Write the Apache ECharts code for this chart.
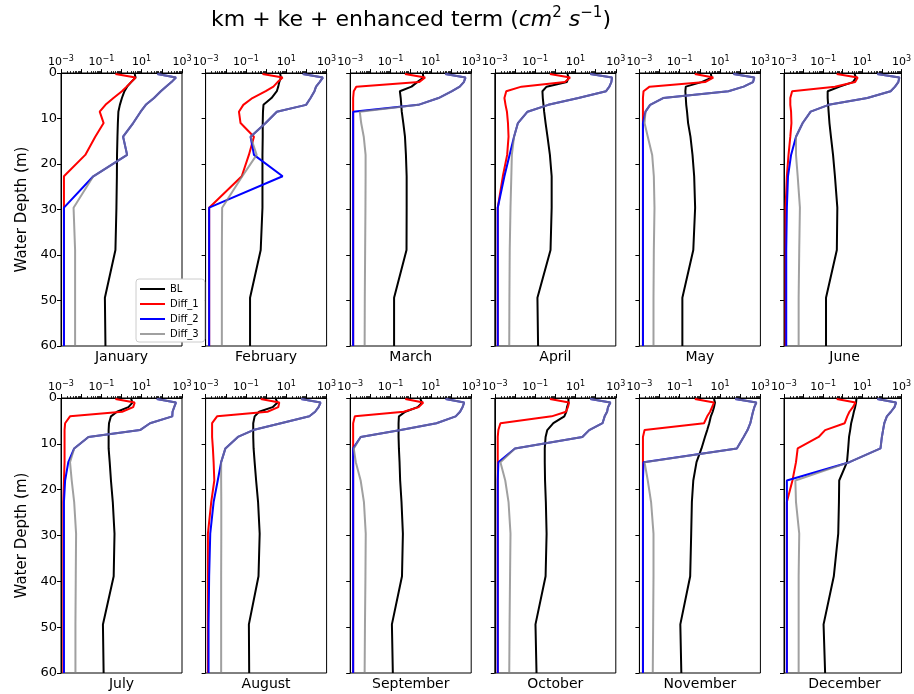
<!DOCTYPE html>
<html><head><meta charset="utf-8">
<script src="https://cdn.jsdelivr.net/npm/echarts@6/dist/echarts.min.js"></script>
<style>html,body{margin:0;padding:0;background:#fff}#c{width:914px;height:694px}</style>
</head><body><div id="c"></div>
<script>
const months = ['January','February','March','April','May','June','July','August','September','October','November','December'];
const depths = [0.2, 1, 2, 3, 4, 5.5, 7, 8.5, 11, 14, 18, 22.7, 29.6, 38.9, 49.4, 60];
const depthTicks = [0, 10, 20, 30, 40, 50, 60];
const xMajorTicks = [0.001, 0.01, 0.1, 1, 10, 100, 1000];
const xMinorTicks = [
  0.002, 0.003, 0.004, 0.005, 0.006, 0.007, 0.008, 0.009,
  0.02, 0.03, 0.04, 0.05, 0.06, 0.07, 0.08, 0.09,
  0.2, 0.3, 0.4, 0.5, 0.6, 0.7, 0.8, 0.9,
  2, 3, 4, 5, 6, 7, 8, 9,
  20, 30, 40, 50, 60, 70, 80, 90,
  200, 300, 400, 500, 600, 700, 800, 900
];

const BL = [
  [4.5, 5.0, 3.0, 1.9, 1.4, 1.05, 0.83, 0.7, 0.66, 0.63, 0.6, 0.59, 0.56, 0.5, 0.15, 0.16],
  [5.0, 5.4, 4.5, 4.0, 3.4, 1.85, 0.74, 0.7, 0.68, 0.68, 0.66, 0.66, 0.66, 0.54, 0.16, 0.16],
  [4.0, 4.3, 2.1, 1.1, 0.29, 0.32, 0.34, 0.36, 0.43, 0.52, 0.58, 0.63, 0.63, 0.62, 0.15, 0.15],
  [4.0, 4.5, 3.7, 0.37, 0.23, 0.24, 0.26, 0.28, 0.33, 0.41, 0.54, 0.66, 0.66, 0.58, 0.13, 0.14],
  [3.5, 3.8, 1.2, 0.2, 0.19, 0.2, 0.21, 0.23, 0.26, 0.34, 0.43, 0.52, 0.58, 0.47, 0.135, 0.135],
  [4.0, 4.8, 3.3, 0.7, 0.17, 0.17, 0.18, 0.19, 0.21, 0.25, 0.32, 0.4, 0.53, 0.5, 0.14, 0.14],
  [3.0, 3.5, 2.2, 0.6, 0.3, 0.24, 0.23, 0.23, 0.23, 0.26, 0.3, 0.37, 0.45, 0.41, 0.12, 0.13],
  [3.0, 3.7, 2.1, 0.45, 0.27, 0.23, 0.23, 0.23, 0.24, 0.27, 0.32, 0.4, 0.48, 0.42, 0.14, 0.145],
  [3.0, 3.7, 2.2, 0.54, 0.26, 0.25, 0.25, 0.25, 0.26, 0.28, 0.3, 0.35, 0.41, 0.37, 0.117, 0.13],
  [4.5, 4.5, 3.8, 3.5, 2.8, 0.8, 0.4, 0.33, 0.3, 0.3, 0.31, 0.34, 0.37, 0.33, 0.104, 0.117],
  [5.0, 5.6, 5.0, 4.3, 3.5, 2.9, 2.3, 1.78, 1.2, 0.68, 0.47, 0.4, 0.37, 0.33, 0.107, 0.12],
  [5.0, 4.8, 4.3, 3.7, 3.3, 2.7, 2.4, 2.1, 1.9, 1.65, 0.66, 0.64, 0.59, 0.35, 0.105, 0.126]
];
const Diff_1 = [
  [0.5, 5.0, 3.0, 1.8, 1.05, 0.4, 0.16, 0.083, 0.13, 0.05, 0.016, 0.0014, 0.0014, 0.0014, 0.0014, 0.0014],
  [0.66, 6.6, 3.7, 2.3, 0.96, 0.21, 0.074, 0.045, 0.054, 0.25, 0.14, 0.062, 0.0015, 0.0015, 0.0015, 0.0015],
  [0.52, 5.2, 2.6, 0.002, 0.0015, 0.0014, 0.0014, 0.0014, 0.0014, 0.0014, 0.0014, 0.0014, 0.0014, 0.0014, 0.0014, 0.0014],
  [0.54, 5.4, 3.0, 0.021, 0.0037, 0.003, 0.0034, 0.004, 0.0045, 0.0048, 0.0041, 0.0025, 0.0014, 0.0014, 0.0014, 0.0014],
  [0.56, 4.6, 1.8, 0.0032, 0.0016, 0.0015, 0.0015, 0.0015, 0.0015, 0.0015, 0.0015, 0.0015, 0.0015, 0.0015, 0.0015, 0.0015],
  [0.49, 5.8, 4.3, 0.4, 0.0026, 0.0021, 0.0021, 0.0023, 0.0024, 0.0021, 0.0017, 0.0014, 0.0012, 0.0012, 0.0012, 0.0012],
  [0.5, 4.5, 3.8, 1.07, 0.0028, 0.0016, 0.0015, 0.0015, 0.0015, 0.0015, 0.0014, 0.0013, 0.0013, 0.0013, 0.0013, 0.0013],
  [0.54, 4.5, 4.0, 1.17, 0.0037, 0.0021, 0.0021, 0.0021, 0.0023, 0.0025, 0.0027, 0.0019, 0.0013, 0.0013, 0.0013, 0.0013],
  [0.54, 4.2, 2.5, 0.45, 0.0017, 0.0014, 0.0014, 0.0014, 0.0014, 0.0014, 0.0014, 0.0014, 0.0014, 0.0014, 0.0014, 0.0014],
  [0.54, 4.8, 4.2, 3.4, 0.66, 0.0019, 0.0015, 0.0014, 0.0014, 0.0014, 0.0014, 0.0014, 0.0014, 0.0014, 0.0014, 0.0014],
  [0.56, 5.0, 4.0, 3.2, 2.3, 1.6, 0.0018, 0.0015, 0.0015, 0.0015, 0.0015, 0.0015, 0.0015, 0.0015, 0.0015, 0.0015],
  [0.49, 4.5, 3.3, 2.2, 1.7, 1.26, 0.126, 0.059, 0.005, 0.0041, 0.0027, 0.0014, 0.0014, 0.0014, 0.0014, 0.0014]
];
const Diff_2 = [
  [60, 500, 300, 160, 89, 41, 16, 8.9, 3.8, 1.2, 1.9, 0.04, 0.0014, 0.0014, 0.0014, 0.0014],
  [66, 650, 450, 300, 250, 160, 96, 3.4, 0.95, 0.17, 0.25, 6.6, 0.0015, 0.0015, 0.0015, 0.0015],
  [52, 520, 430, 270, 112, 24, 2.4, 0.0014, 0.0014, 0.0014, 0.0014, 0.0014, 0.0014, 0.0014, 0.0014, 0.0014],
  [54, 650, 600, 480, 330, 14, 0.45, 0.042, 0.014, 0.009, 0.0054, 0.003, 0.0014, 0.0014, 0.0014, 0.0014],
  [46, 500, 430, 147, 26, 0.015, 0.0034, 0.002, 0.0015, 0.0015, 0.0015, 0.0015, 0.0015, 0.0015, 0.0015, 0.0015],
  [58, 780, 690, 470, 280, 18, 0.19, 0.023, 0.009, 0.0041, 0.0023, 0.0016, 0.0014, 0.0013, 0.0013, 0.0013],
  [56, 500, 410, 340, 330, 26, 8.3, 0.023, 0.0045, 0.0023, 0.0016, 0.0014, 0.0014, 0.0014, 0.0014, 0.0014],
  [54, 500, 400, 270, 140, 5.4, 0.23, 0.04, 0.0096, 0.0059, 0.004, 0.0025, 0.0017, 0.0015, 0.0014, 0.0014],
  [54, 450, 370, 280, 170, 19, 0.32, 0.0033, 0.0014, 0.0014, 0.0014, 0.0014, 0.0014, 0.0014, 0.0014, 0.0014],
  [54, 540, 410, 370, 280, 220, 48, 22, 0.01, 0.0015, 0.0014, 0.0014, 0.0014, 0.0014, 0.0014, 0.0014],
  [56, 630, 500, 430, 380, 316, 230, 147, 68, 0.0016, 0.0015, 0.0015, 0.0015, 0.0015, 0.0015, 0.0015],
  [58, 530, 440, 290, 180, 133, 115, 100, 85, 2.2, 0.0014, 0.0014, 0.0014, 0.0014, 0.0014, 0.0014]
];
const Diff_3 = [
  [60, 500, 300, 160, 89, 41, 16, 8.9, 3.8, 1.2, 1.9, 0.04, 0.0042, 0.005, 0.005, 0.005],
  [66, 650, 450, 300, 250, 160, 96, 3.4, 0.95, 0.17, 0.34, 0.066, 0.0066, 0.0064, 0.0064, 0.0064],
  [52, 520, 430, 270, 112, 24, 2.4, 0.003, 0.0035, 0.0047, 0.0058, 0.0058, 0.0057, 0.0055, 0.0053, 0.0052],
  [54, 650, 600, 480, 330, 14, 0.45, 0.042, 0.014, 0.009, 0.007, 0.0066, 0.006, 0.0055, 0.0053, 0.0052],
  [46, 500, 430, 147, 26, 0.015, 0.0034, 0.002, 0.0018, 0.0026, 0.0043, 0.0052, 0.0056, 0.0052, 0.005, 0.005],
  [58, 780, 690, 470, 280, 18, 0.19, 0.023, 0.009, 0.0041, 0.0041, 0.005, 0.0065, 0.006, 0.0056, 0.0056],
  [56, 500, 410, 340, 330, 26, 8.3, 0.023, 0.0045, 0.0028, 0.0034, 0.0045, 0.0056, 0.0054, 0.0052, 0.0052],
  [54, 500, 400, 270, 140, 5.4, 0.23, 0.04, 0.0096, 0.0059, 0.0059, 0.006, 0.006, 0.0059, 0.0059, 0.0059],
  [54, 450, 370, 280, 170, 19, 0.32, 0.0033, 0.0015, 0.0019, 0.0033, 0.0048, 0.0059, 0.0057, 0.0054, 0.0052],
  [54, 540, 410, 370, 280, 220, 48, 22, 0.01, 0.0019, 0.0033, 0.0048, 0.006, 0.0057, 0.0054, 0.0052],
  [56, 630, 500, 430, 380, 316, 230, 147, 68, 0.0018, 0.0026, 0.0038, 0.005, 0.005, 0.0048, 0.0046],
  [58, 530, 440, 290, 180, 133, 115, 100, 85, 2.2, 0.0038, 0.0041, 0.006, 0.0056, 0.0056, 0.0056]
];

const seriesDefs = [
  { name: 'BL', values: BL, color: '#000000' },
  { name: 'Diff_1', values: Diff_1, color: '#ff0000' },
  { name: 'Diff_2', values: Diff_2, color: '#0000ff' },
  { name: 'Diff_3', values: Diff_3, color: 'rgba(128,128,128,0.75)' }
];

const F = 'DejaVu Sans';
const grids = [], xAxes = [], xMinorAxes = [], yAxes = [], series = [], titles = [];

titles.push({
  text: '{n|km + ke + enhanced term (}{i|cm}{s|2}{n| }{i|s}{s|\u22121}{n|)}',
  left: 411, top: 6, textAlign: 'center', padding: 0,
  textStyle: {
    fontWeight: 'normal',
    rich: {
      n: { fontFamily: F, fontSize: 22, fontWeight: 'normal', color: '#000', lineHeight: 28 },
      i: { fontFamily: F, fontSize: 22, fontWeight: 'normal', fontStyle: 'italic', color: '#000', lineHeight: 28 },
      s: { fontFamily: F, fontSize: 15, fontWeight: 'normal', color: '#000', verticalAlign: 'top', lineHeight: 15 }
    }
  }
});

function expLabel(v) {
  const e = Math.round(Math.log10(v));
  if (Math.abs(e) % 2 !== 1) return '';
  return '{b|10}{s|' + (e < 0 ? '\u2212' + (-e) : e) + '}';
}

for (let m = 0; m < 12; m++) {
  const row = Math.floor(m / 6), col = m % 6;
  const left = 61 + col * 144.6;
  const top = row === 0 ? 73 : 398;
  const h = row === 0 ? 273 : 275;
  grids.push({ left: left, top: top, width: 121, height: h, show: true, borderColor: '#000', borderWidth: 1, backgroundColor: 'transparent' });
  xAxes.push({
    gridIndex: m, type: 'log', logBase: 10, min: 0.001, max: 1000, position: 'top',
    axisLine: { show: true, onZero: false, lineStyle: { color: '#000', width: 1 } },
    axisTick: { show: true, length: 4, lineStyle: { color: '#000' } },
    splitLine: { show: false },
    axisLabel: {
      show: true, margin: 3, showMinLabel: true, showMaxLabel: true,
      formatter: expLabel,
      rich: {
        b: { fontFamily: F, fontSize: 11, color: '#000', lineHeight: 15 },
        s: { fontFamily: F, fontSize: 8, color: '#000', verticalAlign: 'top', lineHeight: 9 }
      }
    }
  });
  xMinorAxes.push({
    gridIndex: m, type: 'log', logBase: 10, min: 0.001, max: 1000, position: 'top',
    axisLine: { show: false },
    axisTick: { show: true, length: 2, customValues: xMinorTicks, lineStyle: { color: '#000', width: 0.8 } },
    splitLine: { show: false },
    axisLabel: { show: false }
  });
  yAxes.push({
    gridIndex: m, type: 'value', inverse: true, min: 0, max: 60, interval: 10,
    axisLine: { show: true, onZero: false, lineStyle: { color: '#000', width: 1 } },
    axisTick: { show: true, length: 4, lineStyle: { color: '#000' } },
    splitLine: { show: false },
    axisLabel: { show: col === 0, fontFamily: F, fontSize: 13, color: '#000', margin: 4 },
    name: col === 0 ? 'Water Depth (m)' : '',
    nameLocation: 'middle', nameRotate: 90, nameGap: 31,
    nameTextStyle: { fontFamily: F, fontSize: 15, color: '#000' }
  });
  titles.push({
    text: months[m], left: left + 60.5, top: top + h + 4, textAlign: 'center', padding: 0,
    textStyle: { fontFamily: F, fontSize: 14, fontWeight: 'normal', color: '#000' }
  });
  seriesDefs.forEach((s, k) => {
    series.push({
      type: 'line', name: s.name, xAxisIndex: m, yAxisIndex: m,
      data: depths.map((d, j) => [s.values[m][j], d]),
      symbol: 'none', showSymbol: false, clip: true, silent: true, z: 2 + k,
      lineStyle: { color: s.color, width: 2 },
      itemStyle: { color: s.color }
    });
  });
}

const chart = echarts.init(document.getElementById('c'), null, { renderer: 'canvas' });
chart.setOption({
  animation: false,
  backgroundColor: '#fff',
  title: titles,
  grid: grids,
  xAxis: xAxes.concat(xMinorAxes),
  yAxis: yAxes,
  legend: {
    data: ['BL', 'Diff_1', 'Diff_2', 'Diff_3'],
    orient: 'vertical', left: 136, top: 279, z: 10,
    backgroundColor: '#fff', borderColor: '#ccc', borderWidth: 1, borderRadius: 3,
    padding: [5, 6, 3, 4], itemGap: 5, itemWidth: 25, itemHeight: 2, icon: 'rect',
    textStyle: { fontFamily: F, fontSize: 10, color: '#000' }
  },
  series: series
});
</script></body></html>
